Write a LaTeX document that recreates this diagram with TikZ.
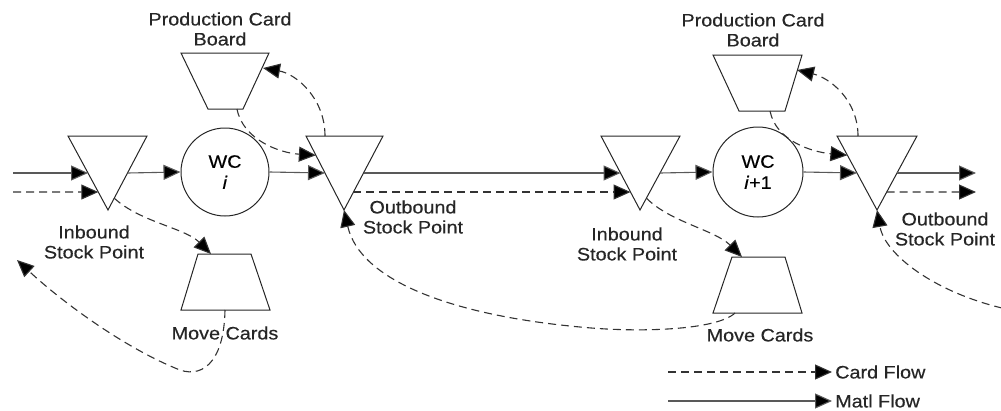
\documentclass[tikz,border=0pt]{standalone}
\usepackage{fontspec}
\setmainfont[FakeStretch=1.1,FakeBold=0.4]{Liberation Sans}
\usetikzlibrary{arrows.meta,calc}
\begin{document}
\begin{tikzpicture}[x=1pt,y=-1pt,
  every node/.style={font=\fontsize{18}{20}\selectfont, align=center, inner sep=0pt},
  shp/.style={draw=black!85, line width=1pt},
  flow/.style={draw=black!65, line width=1.1pt, -{Triangle[length=17pt,width=15pt,fill=black]}},
  card/.style={flow, draw=black!80, dash pattern=on 8pt off 5pt},
  lbl/.style={text=black!85},
]
\useasboundingbox (0,0) rectangle (1001,410);

% ---------- triangles (stock points) ----------
\coordinate (i1a) at (68,136);  \coordinate (i1b) at (147,136); \coordinate (i1c) at (108,210);
\coordinate (o1a) at (306,136); \coordinate (o1b) at (383,136); \coordinate (o1c) at (344,210);
\coordinate (i2a) at (601,136); \coordinate (i2b) at (680,136); \coordinate (i2c) at (640,210);
\coordinate (o2a) at (837,136); \coordinate (o2b) at (917,136); \coordinate (o2c) at (877,210);
\foreach \t in {i1,o1,i2,o2}{
  \draw[shp] (\t a) -- (\t b) -- (\t c) -- cycle;
}
\foreach \t in {i1,o1,i2,o2}{
  \coordinate (\t L) at ($(\t a)!0.5!(\t c)$);
  \coordinate (\t R) at ($(\t b)!0.5!(\t c)$);
  \coordinate (\t Ld) at ($(\t a)!0.757!(\t c)$);
  \coordinate (\t Rd) at ($(\t b)!0.757!(\t c)$);
  \coordinate (\t Lu) at ($(\t a)!0.26!(\t c)$);
  \coordinate (\t Rl) at ($(\t b)!0.84!(\t c)$);
}

% ---------- trapezoids ----------
\draw[shp] (181,53) -- (269,53) -- (243,109) -- (208,109) -- cycle;
\coordinate (p1bot) at (237,109); \coordinate (p1r) at (263,68);
\draw[shp] (713,55) -- (802,55) -- (785,111) -- (739,111) -- cycle;
\coordinate (p2bot) at (770,111); \coordinate (p2r) at (797,70);
\draw[shp] (198,254) -- (251,254) -- (270,310) -- (181,310) -- cycle;
\coordinate (m1top) at (211,254); \coordinate (m1bot) at (225,310);
\draw[shp] (732,257) -- (785,257) -- (802,313) -- (713,313) -- cycle;
\coordinate (m2top) at (742,257); \coordinate (m2bot) at (735,313);

% ---------- work centres ----------
\node[shp, circle, minimum size=88pt] (wc1) at (225,172) {WC\\[1pt]\textit{i}};
\node[shp, circle, minimum size=90pt] (wc2) at (758,172) {WC\\[1pt]\textit{i}+1};

% ---------- labels ----------
\node[lbl] (lp1) at (220,29) {Production Card\\Board};
\node[lbl] (lp2) at (753,30) {Production Card\\Board};
\node[lbl] (li1) at (94,242) {Inbound\\Stock Point};
\node[lbl] (lo1) at (413,217) {Outbound\\Stock Point};
\node[lbl] (li2) at (627,244) {Inbound\\Stock Point};
\node[lbl] (lo2) at (945,229) {Outbound\\Stock Point};
\node[lbl] (lm1) at (225,333) {Move Cards};
\node[lbl] (lm2) at (760,335) {Move Cards};

% ---------- material flow ----------
\coordinate (min) at (13,173);
\coordinate (cin) at (13,192);
\coordinate (mout) at (976,173);
\coordinate (cout) at (976,192);
\draw[flow] (min) -- (i1L);
\draw[flow] (i1R) -- (wc1.west);
\draw[flow] (wc1.east) -- (o1L);
\draw[flow] (o1R) -- (i2L);
\draw[flow] (i2R) -- (wc2.west);
\draw[flow] (wc2.east) -- (o2L);
\draw[flow] (o2R) -- (mout);

% ---------- card flow ----------
\draw[card] (cin) -- (i1Ld);
\draw[card] (o1Rd) -- (i2Ld);
\draw[card] (o2Rd) -- (cout);

\draw[card] (325,136) .. controls (325,98) and (296,74) .. (p1r);
\draw[card] (p1bot) .. controls (243,140) and (280,153) .. (o1Lu);
\draw[card] (858,136) .. controls (858,100) and (830,78) .. (p2r);
\draw[card] (p2bot) .. controls (776,141) and (812,152) .. (o2Lu);

\draw[card] (i1Rl) .. controls (140,222) and (185,228) .. (m1top);
\draw[card] (i2Rl) .. controls (670,222) and (715,230) .. (m2top);

\coordinate (back1) at (17,260);
\draw[card] (m1bot) .. controls (224,365) and (200,380) .. (175,368)
            .. controls (120,345) and (60,300) .. (back1);
\draw[card] (m2bot) .. controls (717,330) and (640,333) .. (580,327)
            .. controls (450,315) and (360,280) .. (o1c);
\coordinate (offr) at (1002,308);
\draw[card] (offr) .. controls (935,292) and (885,255) .. (o2c);

% ---------- legend ----------
\coordinate (lc1) at (668,372); \coordinate (lc2) at (832,372);
\coordinate (lm1s) at (668,401); \coordinate (lm2s) at (832,401);
\draw[card] (lc1) -- (lc2);
\draw[flow] (lm1s) -- (lm2s);
\node[lbl, anchor=west] (tcard) at (835,372) {Card Flow};
\node[lbl, anchor=west] (tmatl) at (835,401) {Matl Flow};
\end{tikzpicture}
\end{document}
